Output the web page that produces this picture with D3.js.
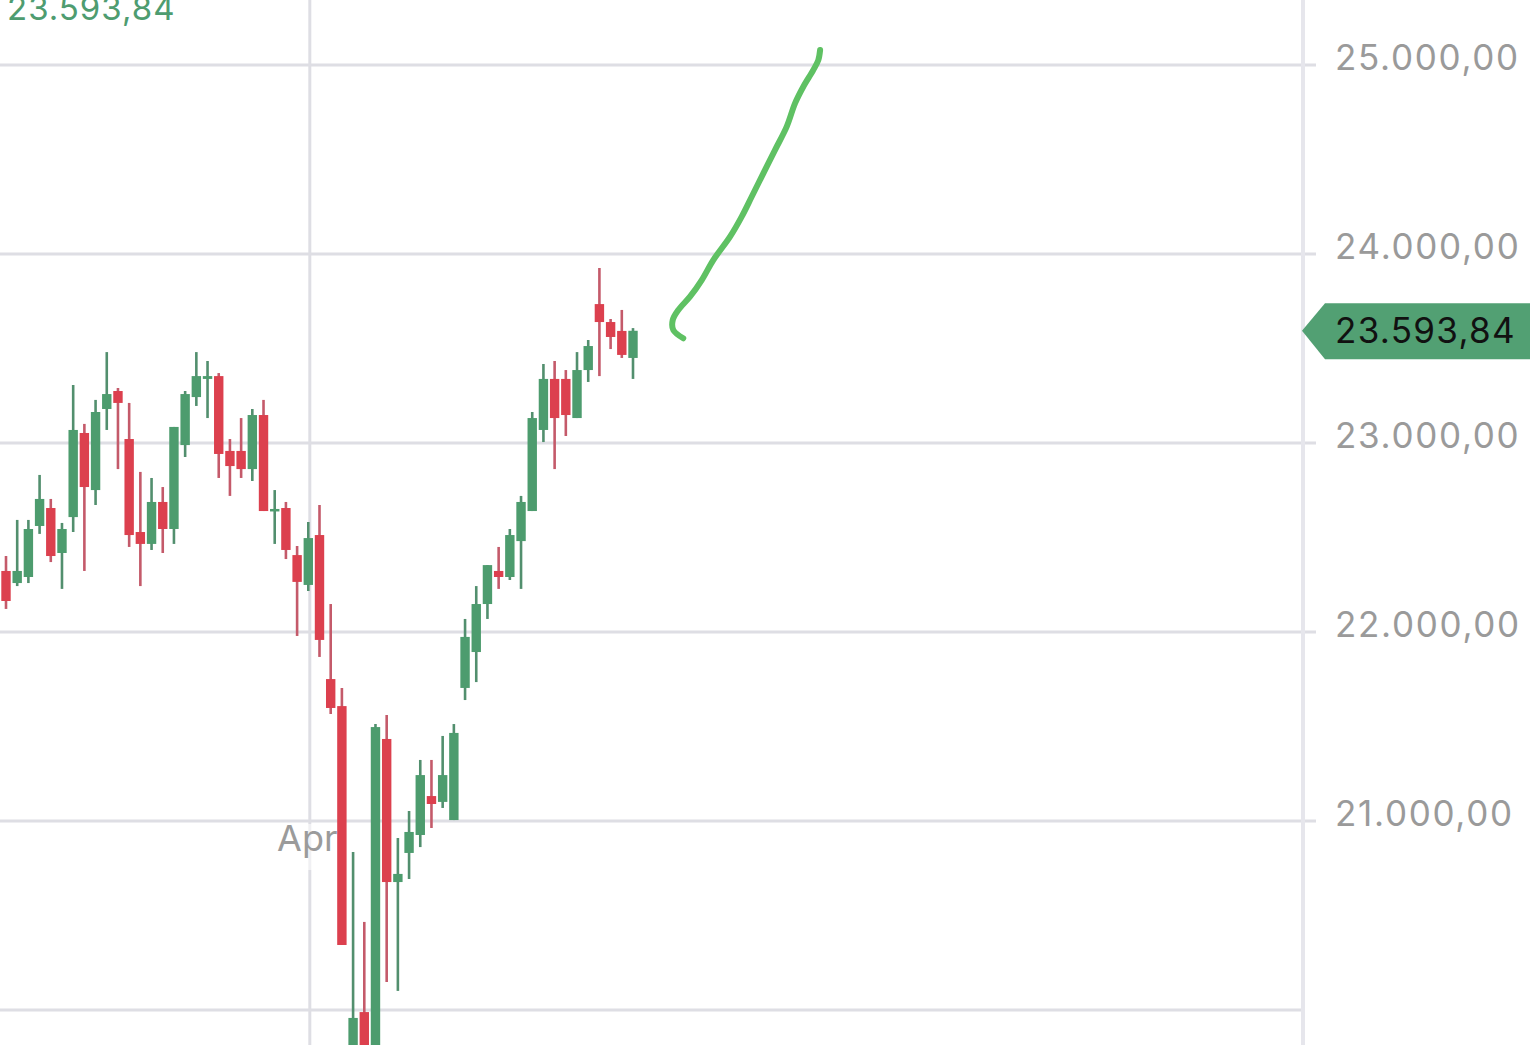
<!DOCTYPE html>
<html>
<head>
<meta charset="utf-8">
<script src="https://cdn.jsdelivr.net/npm/d3@7"></script>
<style>
  html, body { margin: 0; padding: 0; background: #ffffff; overflow: hidden; }
  svg { display: block; }
</style>
</head>
<body>
<svg id="chart" width="1530" height="1045"></svg>
<script>
// ---------- DATA ----------
const dates = ["2025-02-21","2025-02-24","2025-02-25","2025-02-26","2025-02-27","2025-02-28",
  "2025-03-03","2025-03-04","2025-03-05","2025-03-06","2025-03-07","2025-03-10","2025-03-11",
  "2025-03-12","2025-03-13","2025-03-14","2025-03-17","2025-03-18","2025-03-19","2025-03-20",
  "2025-03-21","2025-03-24","2025-03-25","2025-03-26","2025-03-27","2025-03-28","2025-03-31",
  "2025-04-01","2025-04-02","2025-04-03","2025-04-04","2025-04-07","2025-04-08","2025-04-09",
  "2025-04-10","2025-04-11","2025-04-14","2025-04-15","2025-04-16","2025-04-17","2025-04-22",
  "2025-04-23","2025-04-24","2025-04-25","2025-04-28","2025-04-29","2025-04-30","2025-05-02",
  "2025-05-05","2025-05-06","2025-05-07","2025-05-08","2025-05-09","2025-05-12","2025-05-13",
  "2025-05-14","2025-05-15"];
const openValues  = [22323,22259,22291,22561,22656,22418,22608,23053,22751,23180,23275,23021,22529,
  22466,22688,22545,22989,23243,23339,23354,22958,22958,22862,23148,22640,22656,22407,
  22249,22513,21751,21608,19400,19989,19750,21434,20677,20831,20926,21132,21101,21005,
  21704,21894,22148,22323,22291,22481,22640,23069,23339,23339,23132,23386,23735,23640,
  23593,23450];
const highValues  = [22402,22593,22593,22831,22704,22577,23307,23101,23228,23481,23291,23212,22847,
  22815,22767,23085,23275,23481,23434,23370,23021,23132,23180,23228,22751,22688,22455,
  22582,22672,22148,21704,20836,20466,21513,21561,20910,21053,21323,21323,21450,21513,
  22069,22243,22354,22450,22545,22720,23164,23418,23434,23386,23481,23545,23926,23656,
  23704,23608];
const lowValues   = [22122,22243,22259,22519,22370,22228,22529,22323,22672,23069,22862,22450,22243,
  22434,22418,22466,22926,23196,23132,22815,22720,22815,22799,22640,22466,22386,21979,
  22217,21868,21566,20344,18500,19300,19600,20148,20101,20693,20862,20963,21069,21005,
  21640,21735,22069,22228,22275,22228,22640,23005,22862,23037,23132,23323,23354,23497,
  23450,23339];
const closeValues = [22164,22323,22545,22704,22402,22545,23069,22767,23164,23259,23212,22513,22466,
  22688,22545,23085,23259,23354,23354,22942,22878,22862,23148,22640,22651,22434,22265,
  22497,21958,21598,20344,19958,19700,21497,20677,20720,20942,21243,21090,21243,21466,
  21974,22148,22354,22291,22513,22688,23132,23339,23132,23148,23386,23513,23640,23561,
  23466,23593.84];

const gridValues  = [20000, 21000, 22000, 23000, 24000, 25000];
const tickValues  = [21000, 22000, 23000, 24000, 25000];
const monthLabels = [{ date: "2025-04-01", label: "Apr" }];
const lastPrice   = 23593.84;

// hand-drawn annotation stroke (index position, price value)
const sketchIdx = [60.49, 59.60, 59.55, 60.05, 61.09, 62.14, 63.17, 64.67, 65.71, 66.60,
  67.64, 68.68, 69.73, 70.47, 71.21, 72.11, 72.55, 72.71];
const sketchVal = [23554, 23598, 23651, 23704, 23774, 23862, 23968, 24092, 24198, 24303,
  24427, 24550, 24674, 24797, 24885, 24974, 25026, 25079];

// ---------- SETUP ----------
const W = 1530, H = 1045;
const plotRight = 1303;
const svg = d3.select("#chart");

const x = d3.scaleLinear().domain([0, dates.length - 1]).range([6, 633]);
const y = d3.scaleLinear().domain([20000, 25000]).range([1010, 65]);

const deFmt = d3.formatLocale({ decimal: ",", thousands: ".", grouping: [3], currency: ["", "€"] }).format(",.2f");

const GREEN = "#4d9c6e", RED = "#dc404e";
const GREEN_WICK = "#528f6e", RED_WICK = "#c45a6a";
const GRID = "#dedee4";

svg.append("defs").append("clipPath").attr("id", "plotClip")
  .append("rect").attr("x", 0).attr("y", 0).attr("width", plotRight - 2).attr("height", H);

// ---------- GRID ----------
svg.append("g").selectAll("line").data(gridValues).join("line")
  .attr("x1", 0).attr("x2", d => d === 20000 ? plotRight : plotRight + 13)
  .attr("y1", d => y(d)).attr("y2", d => y(d))
  .attr("stroke", GRID).attr("stroke-width", 3);

// vertical month gridline
const dateIndex = d => dates.indexOf(d);
svg.append("g").selectAll("line").data(monthLabels).join("line")
  .attr("x1", d => x(dateIndex(d.date)) + 1.5).attr("x2", d => x(dateIndex(d.date)) + 1.5)
  .attr("y1", 0).attr("y2", H)
  .attr("stroke", GRID).attr("stroke-width", 3);

// right axis border
svg.append("line")
  .attr("x1", plotRight).attr("x2", plotRight).attr("y1", 0).attr("y2", H)
  .attr("stroke", "#e6e6ec").attr("stroke-width", 4);

// month label
const mg = svg.append("g").selectAll("g").data(monthLabels).join("g");
mg.append("rect")
  .attr("x", d => x(dateIndex(d.date)) - 34).attr("y", 824)
  .attr("width", 64).attr("height", 46)
  .attr("fill", "#ffffff").attr("opacity", 0.55);
mg.append("text")
  .attr("x", d => x(dateIndex(d.date)) - 1).attr("y", 851)
  .attr("text-anchor", "middle")
  .attr("font-family", "Inter, Roboto, sans-serif").attr("font-size", 36)
  .attr("fill", "#9b9b9b")
  .text(d => d.label);

// ---------- CANDLES ----------
const candles = dates.map((d, i) => ({
  i, date: d, o: openValues[i], h: highValues[i], l: lowValues[i], c: closeValues[i]
}));
const cg = svg.append("g").attr("clip-path", "url(#plotClip)");
const bodyW = 9.4;

cg.selectAll("line.wick").data(candles).join("line").attr("class", "wick")
  .attr("x1", d => x(d.i)).attr("x2", d => x(d.i))
  .attr("y1", d => y(d.h)).attr("y2", d => y(d.l))
  .attr("stroke", d => d.c >= d.o ? GREEN_WICK : RED_WICK)
  .attr("stroke-width", 2.6);

cg.selectAll("rect.body").data(candles).join("rect").attr("class", "body")
  .attr("x", d => x(d.i) - bodyW / 2)
  .attr("width", bodyW)
  .attr("y", d => y(Math.max(d.o, d.c)))
  .attr("height", d => Math.max(2.5, Math.abs(y(d.o) - y(d.c))))
  .attr("fill", d => d.c >= d.o ? GREEN : RED);

// ---------- Y LABELS ----------
svg.append("g").selectAll("text").data(tickValues).join("text")
  .attr("x", 1335).attr("y", d => y(d) + 5)
  .attr("font-family", "Inter, Roboto, sans-serif").attr("font-size", 35)
  .attr("letter-spacing", 1.7)
  .attr("fill", "#9a9a9a")
  .text(d => deFmt(d));

// ---------- PRICE TAG ----------
const py = y(lastPrice);
svg.append("path")
  .attr("d", d3.line()([[plotRight - 1, py], [1325, py - 27.5], [W, py - 27.5], [W, py + 28.5], [1325, py + 28.5]]) + "Z")
  .attr("fill", "#52a073");
svg.append("text")
  .attr("x", 1335).attr("y", py + 12)
  .attr("font-family", "Inter, Roboto, sans-serif").attr("font-size", 35)
  .attr("letter-spacing", 1.3)
  .attr("fill", "#111111")
  .text(deFmt(lastPrice));

// top-left last value (partly cut off at the top edge, as in the original)
svg.append("text")
  .attr("x", 7).attr("y", 20)
  .attr("font-family", "Inter, Roboto, sans-serif").attr("font-size", 33)
  .attr("letter-spacing", 1.0)
  .attr("fill", "#4e9c70")
  .text(deFmt(lastPrice));

// ---------- SKETCH ----------
const sketch = sketchIdx.map((v, i) => [x(v), y(sketchVal[i])]);
svg.append("path")
  .attr("d", d3.line().curve(d3.curveCatmullRom)(sketch))
  .attr("fill", "none")
  .attr("stroke", "#5fc163")
  .attr("stroke-width", 6)
  .attr("stroke-linecap", "round")
  .attr("stroke-linejoin", "round");
</script>
</body>
</html>
